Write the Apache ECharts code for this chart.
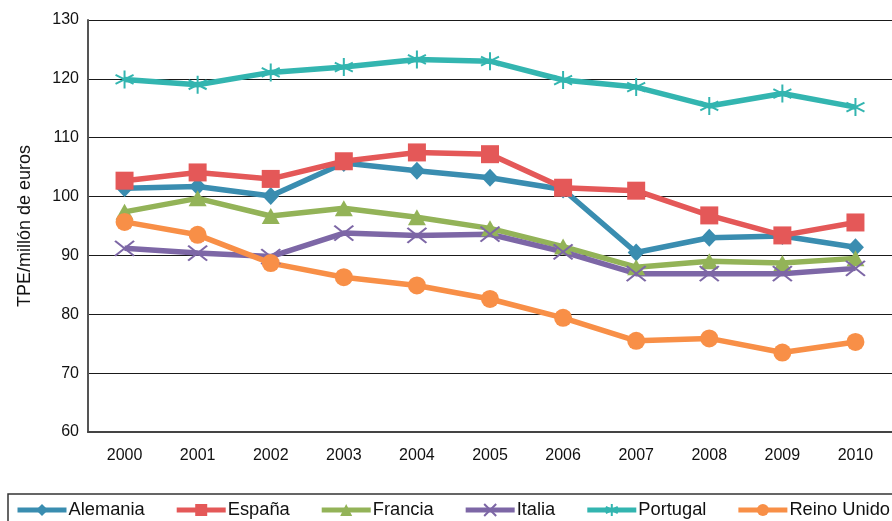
<!DOCTYPE html>
<html>
<head>
<meta charset="utf-8">
<script src="https://cdn.jsdelivr.net/npm/echarts@6/dist/echarts.min.js"></script>
<style>
  html, body { margin: 0; padding: 0; background: #fff; }
  #chart { width: 892px; height: 521px; }
</style>
</head>
<body>
<div id="chart"></div>
<script>
const years = ['2000', '2001', '2002', '2003', '2004', '2005', '2006', '2007', '2008', '2009', '2010']

const alemania = [101.4, 101.7, 100.1, 105.7, 104.4, 103.2, 101.2, 90.5, 93.0, 93.3, 91.4]
const espana = [102.7, 104.1, 103.0, 106.0, 107.5, 107.2, 101.5, 101.0, 96.8, 93.4, 95.6]
const francia = [97.4, 99.7, 96.7, 98.0, 96.5, 94.6, 91.5, 88.0, 89.0, 88.7, 89.5]
const italia = [91.2, 90.4, 89.8, 93.8, 93.4, 93.6, 90.6, 86.9, 86.9, 86.9, 87.8]
const portugal = [119.9, 119.0, 121.1, 122.0, 123.3, 123.0, 119.8, 118.6, 115.4, 117.5, 115.2]
const reinoUnido = [95.7, 93.5, 88.7, 86.3, 84.9, 82.6, 79.4, 75.5, 75.9, 73.5, 75.3]

const yTicks = { min: 60, max: 130, interval: 10 }

const font = 'Helvetica, "Liberation Sans", Arial, sans-serif'

const crossPath = 'path://M0 0 L20 15 M20 0 L0 15'
const starPath = 'path://M10 0 L10 20 M1 5 L19 15 M1 15 L19 5'

function lineSeries(name, data, color, symbol, size, extra) {
  return Object.assign({
    name: name,
    type: 'line',
    data: data,
    symbol: symbol,
    symbolSize: size,
    showAllSymbol: true,
    lineStyle: { color: color, width: 5.5 },
    itemStyle: { color: color },
    emphasis: { disabled: true },
    z: 3,
  }, extra || {})
}

const chart = echarts.init(document.getElementById('chart'))
chart.setOption({
  animation: false,
  backgroundColor: '#fff',
  textStyle: { fontFamily: font },
  grid: { left: 88, top: 20, right: -2, bottom: 89 },
  legend: {
    left: 8,
    top: 494,
    width: 1200,
    padding: [7, 40, 14, 7],
    itemGap: 29.5,
    itemWidth: 49,
    itemHeight: 15,
    borderColor: '#333',
    borderWidth: 1.5,
    lineStyle: { width: 5 },
    textStyle: { fontSize: 18.3, color: '#111', fontFamily: font, padding: [0, 0, 0, -3] },
  },
  xAxis: {
    type: 'category',
    data: years,
    boundaryGap: true,
    axisLine: { show: true, lineStyle: { color: '#444', width: 2 } },
    axisTick: { show: false },
    axisLabel: { color: '#111', fontSize: 16, margin: 16, fontFamily: font },
    splitLine: { show: false },
  },
  yAxis: {
    type: 'value',
    min: yTicks.min,
    max: yTicks.max,
    interval: yTicks.interval,
    name: 'TPE/millón de euros',
    nameLocation: 'middle',
    nameRotate: 90,
    nameGap: 54,
    nameTextStyle: { color: '#111', fontSize: 18, fontFamily: font },
    axisLine: { show: true, lineStyle: { color: '#555', width: 2 } },
    axisTick: { show: false },
    axisLabel: { color: '#111', fontSize: 16, margin: 9, fontFamily: font },
    splitLine: { show: true, lineStyle: { color: '#1a1a1a', width: 1 } },
  },
  series: [
    lineSeries('Alemania', alemania, '#3a8db0', 'diamond', [17, 18]),
    lineSeries('España', espana, '#e45858', 'rect', 18),
    lineSeries('Francia', francia, '#93b358', 'triangle', [18, 16]),
    lineSeries('Italia', italia, '#7d67a6', crossPath, [19, 15], {
      itemStyle: { color: '#7d67a6', borderColor: '#7d67a6', borderWidth: 2 },
    }),
    lineSeries('Portugal', portugal, '#33b5b0', starPath, 18, {
      itemStyle: { color: '#33b5b0', borderColor: '#33b5b0', borderWidth: 2 },
    }),
    lineSeries('Reino Unido', reinoUnido, '#f88f47', 'circle', 18),
  ],
})
</script>
</body>
</html>
